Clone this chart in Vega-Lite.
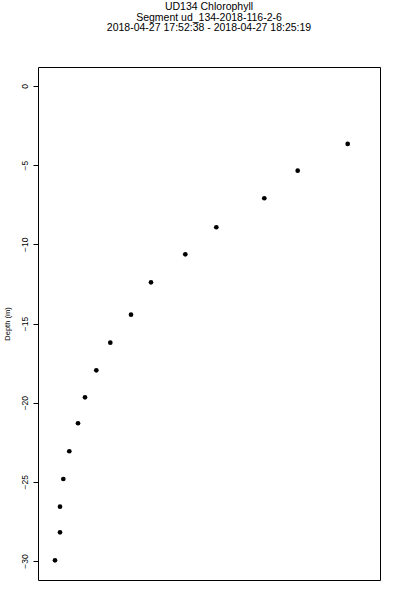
{
  "$schema": "https://vega.github.io/schema/vega-lite/v6.json",
  "width": 342,
  "height": 513,
  "autosize": {"type": "none"},
  "padding": {"left": 38, "top": 67, "right": 20, "bottom": 20},
  "background": "white",
  "title": {
    "text": ["UD134 Chlorophyll", "Segment ud_134-2018-116-2-6", "2018-04-27 17:52:38 - 2018-04-27 18:25:19"],
    "font": "Liberation Sans",
    "fontSize": 10.5,
    "fontWeight": "normal",
    "color": "black",
    "lineHeight": 10.8,
    "offset": 33,
    "anchor": "middle"
  },
  "data": {
    "values": [
      {"chlorophyll": 3.097, "depth": -3.66},
      {"chlorophyll": 2.597, "depth": -5.35},
      {"chlorophyll": 2.263, "depth": -7.09},
      {"chlorophyll": 1.783, "depth": -8.92},
      {"chlorophyll": 1.473, "depth": -10.63},
      {"chlorophyll": 1.13, "depth": -12.40},
      {"chlorophyll": 0.93, "depth": -14.44},
      {"chlorophyll": 0.723, "depth": -16.21},
      {"chlorophyll": 0.583, "depth": -17.96},
      {"chlorophyll": 0.47, "depth": -19.66},
      {"chlorophyll": 0.40, "depth": -21.30},
      {"chlorophyll": 0.313, "depth": -23.07},
      {"chlorophyll": 0.253, "depth": -24.82},
      {"chlorophyll": 0.22, "depth": -26.57},
      {"chlorophyll": 0.22, "depth": -28.19},
      {"chlorophyll": 0.17, "depth": -29.96}
    ]
  },
  "mark": {"type": "point", "filled": true, "color": "black", "size": 22, "opacity": 1},
  "encoding": {
    "x": {
      "field": "chlorophyll",
      "type": "quantitative",
      "scale": {"domain": [0, 3.42], "nice": false, "zero": false},
      "axis": null
    },
    "y": {
      "field": "depth",
      "type": "quantitative",
      "scale": {"domain": [-31.2, 1.2], "nice": false, "zero": false},
      "axis": {
        "values": [0, -5, -10, -15, -20, -25, -30],
        "title": "Depth (m)",
        "titleFont": "Liberation Sans",
        "titleFontSize": 7.5,
        "titleFontWeight": "normal",
        "titleColor": "black",
        "titlePadding": 9,
        "domain": false,
        "grid": false,
        "ticks": true,
        "tickColor": "black",
        "tickSize": 5,
        "tickWidth": 1,
        "labelAngle": -90,
        "labelAlign": "center",
        "labelBaseline": "bottom",
        "labelPadding": 4,
        "labelFont": "Liberation Sans",
        "labelFontSize": 8.5,
        "labelColor": "black",
        "labelFlush": false,
        "labelOverlap": false
      }
    }
  },
  "config": {"view": {"stroke": "black", "strokeWidth": 1}}
}
